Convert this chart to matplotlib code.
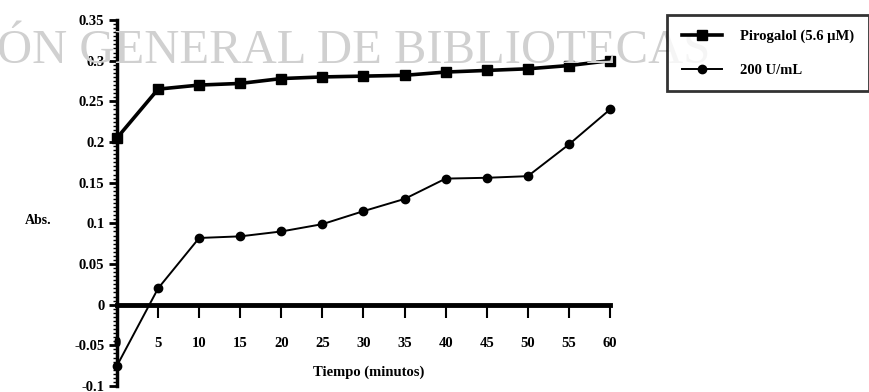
import matplotlib
matplotlib.use("Agg")
import matplotlib.pyplot as plt
from matplotlib.ticker import MultipleLocator

# Time (minutes) and absorbance readings
tiempo = [0, 5, 10, 15, 20, 25, 30, 35, 40, 45, 50, 55, 60]
pirogalol = [0.205, 0.265, 0.270, 0.272, 0.278, 0.280, 0.281, 0.282, 0.286, 0.288, 0.290, 0.294, 0.300]
u200 = [-0.075, 0.020, 0.082, 0.084, 0.090, 0.099, 0.115, 0.130, 0.155, 0.156, 0.158, 0.197, 0.240]

x_ticks = [0, 5, 10, 15, 20, 25, 30, 35, 40, 45, 50, 55, 60]
y_ticks = [-0.1, -0.05, 0, 0.05, 0.1, 0.15, 0.2, 0.25, 0.3, 0.35]
y_ticklabels = ["-0.1", "-0.05", "0", "0.05", "0.1", "0.15", "0.2", "0.25", "0.3", "0.35"]

serif = ["Liberation Serif", "DejaVu Serif"]

fig = plt.figure(figsize=(8.7, 3.92), dpi=100)
ax = fig.add_axes([117 / 870, 1 - 386 / 392, (610 - 117) / 870, (386 - 20) / 392])

ax.plot(tiempo, pirogalol, color="black", lw=2.6, marker="s", ms=7.5,
        label="Pirogalol (5.6 µM)", clip_on=False, zorder=4)
ax.plot(tiempo, u200, color="black", lw=1.4, marker="o", ms=6,
        label="200 U/mL", clip_on=False, zorder=4)

ax.set_xlim(0, 60)
ax.set_ylim(-0.1, 0.35)

ax.spines["top"].set_visible(False)
ax.spines["right"].set_visible(False)
ax.spines["bottom"].set_position(("data", 0))
ax.spines["bottom"].set_linewidth(3.5)
ax.spines["left"].set_linewidth(2.5)

ax.set_xticks(x_ticks)
ax.set_xticklabels([str(t) for t in x_ticks], family=serif, fontweight="bold", fontsize=10.5)
ax.set_yticks(y_ticks)
ax.set_yticklabels(y_ticklabels, family=serif, fontweight="bold", fontsize=10.5)
ax.yaxis.set_minor_locator(MultipleLocator(0.005))

ax.tick_params(axis="x", direction="out", length=9, width=1.5, pad=14)
ax.tick_params(axis="y", which="major", direction="out", length=6, width=2, pad=3)
ax.tick_params(axis="y", which="minor", direction="out", length=3, width=1)

ax.set_xlabel("Tiempo (minutos)", family=serif, fontweight="bold", fontsize=10.5)
ax.xaxis.set_label_coords(0.51, 0.055)
ax.set_ylabel("Abs.", family=serif, fontweight="bold", fontsize=10, rotation=0)
ax.yaxis.set_label_coords(-0.16, 0.435)

leg = fig.legend(loc="upper left", bbox_to_anchor=(667 / 870, 1 - 15 / 392),
                 prop={"family": serif, "weight": "bold", "size": 10.5},
                 frameon=True, fancybox=False, edgecolor="black",
                 handlelength=2.8, handletextpad=1.2, borderpad=1.0,
                 labelspacing=1.4, borderaxespad=0)
leg.get_frame().set_linewidth(2.0)

# Library watermark across the top
fig.text(-0.004, 1 - 63 / 392, "ÓN GENERAL DE BIBLIOTECAS", family=serif,
         fontsize=35, color="#d0d0d0", va="baseline", ha="left", zorder=0)

fig.savefig("out.png", dpi=100)
